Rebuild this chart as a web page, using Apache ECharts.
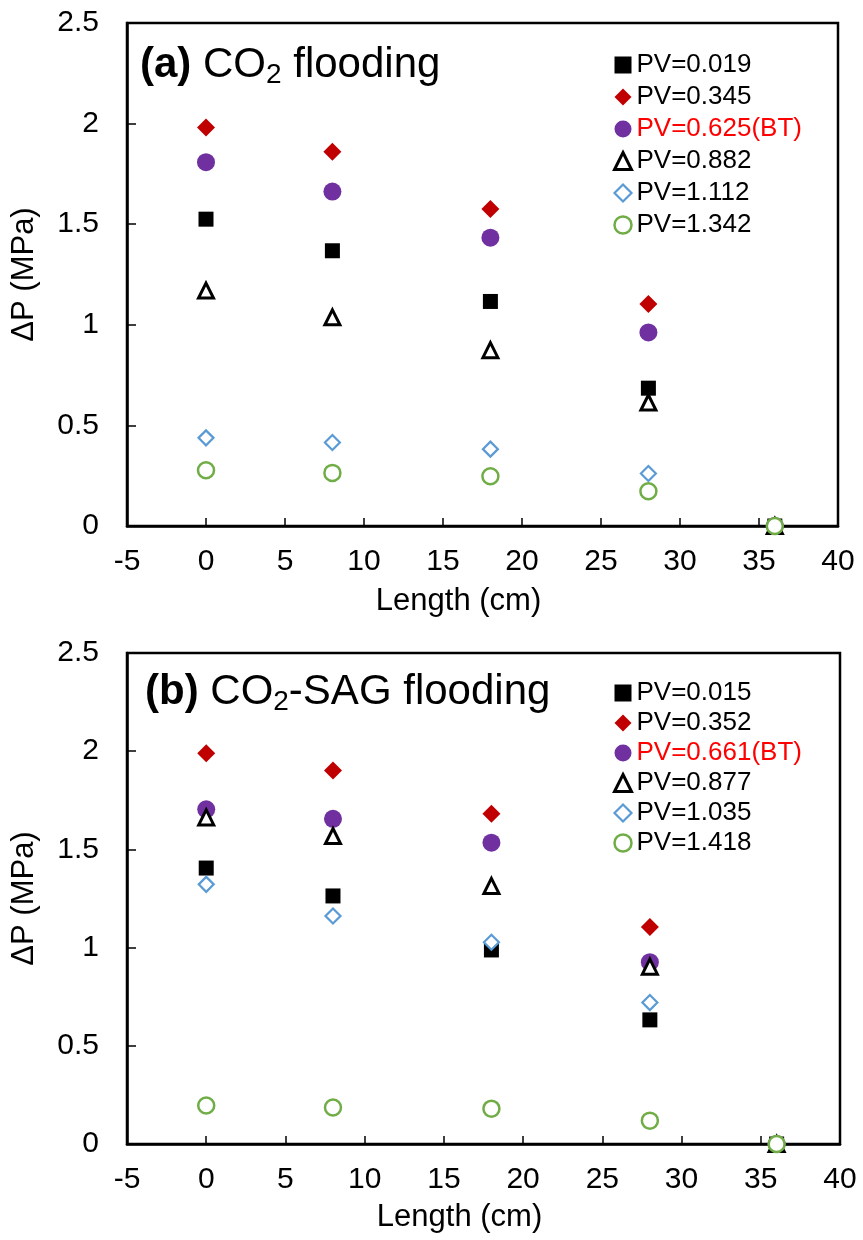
<!DOCTYPE html>
<html>
<head>
<meta charset="utf-8">
<script src="https://cdn.jsdelivr.net/npm/echarts@6/dist/echarts.min.js"></script>
<style>
html,body{margin:0;padding:0;background:#fff;}
#c{width:863px;height:1240px;}
</style>
</head>
<body>
<div id="c"></div>
<script>
// ---- data ----
const lengths = [0, 8, 18, 28, 36];
const xTicks = [-5, 0, 5, 10, 15, 20, 25, 30, 35, 40];
const yTicks = [0, 0.5, 1, 1.5, 2, 2.5];

const namesA = ['PV=0.019', 'PV=0.345', 'PV=0.625(BT)', 'PV=0.882', 'PV=1.112', 'PV=1.342'];
const a1 = [1.525, 1.368, 1.116, 0.685, 0];
const a2 = [1.980, 1.860, 1.576, 1.103, 0];
const a3 = [1.808, 1.662, 1.433, 0.962, 0];
const a4 = [1.170, 1.037, 0.874, 0.614, 0];
const a5 = [0.438, 0.415, 0.382, 0.261, 0];
const a6 = [0.277, 0.264, 0.247, 0.173, 0];

const namesB = ['PV=0.015', 'PV=0.352', 'PV=0.661(BT)', 'PV=0.877', 'PV=1.035', 'PV=1.418'];
const b1 = [1.405, 1.263, 0.988, 0.632, 0];
const b2 = [1.990, 1.902, 1.682, 1.105, 0];
const b3 = [1.704, 1.656, 1.534, 0.926, 0];
const b4 = [1.663, 1.568, 1.314, 0.903, 0];
const b5 = [1.322, 1.161, 1.027, 0.720, 0];
const b6 = [0.196, 0.186, 0.180, 0.119, 0];

// ---- styles ----
const FONT = '"Liberation Sans", Arial, sans-serif';
const styles = [
  {symbol: 'rect', symbolSize: 15, itemStyle: {color: '#000000', opacity: 1}},
  {symbol: 'diamond', symbolSize: 18, itemStyle: {color: '#C00000', opacity: 1}},
  {symbol: 'circle', symbolSize: 18, itemStyle: {color: '#7030A0', opacity: 1}},
  {symbol: 'triangle', symbolSize: 15, itemStyle: {color: '#ffffff', borderColor: '#000000', borderWidth: 3, opacity: 1}},
  {symbol: 'diamond', symbolSize: 15, itemStyle: {color: '#ffffff', borderColor: '#5B9BD5', borderWidth: 2.2, opacity: 1}},
  {symbol: 'circle', symbolSize: 16, itemStyle: {color: '#ffffff', borderColor: '#70AD47', borderWidth: 2.5, opacity: 1}}
];

function pairs(vals) { return lengths.map((x, i) => [x, vals[i]]); }

function makeSeries(names, sets, idx) {
  return names.map((n, i) => Object.assign({
    type: 'scatter', name: n, xAxisIndex: idx, yAxisIndex: idx,
    data: pairs(sets[i]), clip: false, z: 2 + i,
    emphasis: {disabled: true}
  }, JSON.parse(JSON.stringify(styles[i]))));
}

function legendData(names) {
  return names.map((n, i) => {
    const d = {name: n, itemStyle: JSON.parse(JSON.stringify(styles[i].itemStyle))};
    if (i === 2) d.textStyle = {color: '#FF0000'};
    return d;
  });
}

function xAxis(idx) {
  return {
    type: 'value', gridIndex: idx, min: xTicks[0], max: xTicks[xTicks.length - 1], interval: 5,
    name: 'Length (cm)', nameLocation: 'middle', nameGap: idx === 0 ? 60 : 58,
    nameTextStyle: {fontFamily: FONT, fontSize: 31, color: '#000', padding: [0, 48, 0, 0]},
    axisLine: {show: true, onZero: false, lineStyle: {color: '#000', width: 2.5}},
    axisTick: {show: true, inside: true, length: 8, lineStyle: {color: '#000', width: 1.5}},
    axisLabel: {fontFamily: FONT, fontSize: 30, color: '#000', margin: 21, showMinLabel: true, showMaxLabel: true},
    splitLine: {show: false}
  };
}
function yAxis(idx) {
  return {
    type: 'value', gridIndex: idx, min: yTicks[0], max: yTicks[yTicks.length - 1], interval: 0.5,
    name: 'ΔP (MPa)', nameLocation: 'middle', nameGap: 87, nameRotate: 90,
    nameTextStyle: {fontFamily: FONT, fontSize: 31, color: '#000'},
    axisLine: {show: true, onZero: false, lineStyle: {color: '#000', width: 2.5}},
    axisTick: {show: true, inside: true, length: 9, lineStyle: {color: '#000', width: 1.5}},
    axisLabel: {fontFamily: FONT, fontSize: 30, color: '#000', margin: 28, showMinLabel: true, showMaxLabel: true},
    splitLine: {show: false}
  };
}

function legend(names, top, gap) {
  return {
    data: legendData(names), orient: 'vertical', left: 613, top: top,
    itemWidth: 17, itemHeight: 17, itemGap: gap,
    textStyle: {fontFamily: FONT, fontSize: 26, color: '#000', lineHeight: 26},
    selectedMode: false, padding: 0
  };
}

const chart = echarts.init(document.getElementById('c'), null, {renderer: 'canvas'});
const rich = {
  b: {fontFamily: FONT, fontSize: 42, fontWeight: 'bold', color: '#000', lineHeight: 48},
  n: {fontFamily: FONT, fontSize: 42, fontWeight: 'normal', color: '#000', lineHeight: 48},
  s: {fontFamily: FONT, fontSize: 28, fontWeight: 'normal', color: '#000', lineHeight: 18, verticalAlign: 'bottom'}
};
chart.setOption({
  animation: false,
  backgroundColor: '#ffffff',
  title: [
    {text: '{b|(a)}{n| CO}{s|2}{n| flooding}', left: 140, top: 41, padding: 0, textStyle: {fontWeight: 'normal', rich: rich}},
    {text: '{b|(b)}{n| CO}{s|2}{n|-SAG flooding}', left: 145, top: 668, padding: 0, textStyle: {fontWeight: 'normal', rich: rich}}
  ],
  grid: [
    {left: 127, right: 25, top: 23, height: 503, show: true, borderColor: '#000', borderWidth: 2.5, backgroundColor: 'transparent'},
    {left: 127, right: 23, top: 653, height: 491, show: true, borderColor: '#000', borderWidth: 2.5, backgroundColor: 'transparent'}
  ],
  legend: [legend(namesA, 52, 6), legend(namesB, 680, 4)],
  xAxis: [xAxis(0), xAxis(1)],
  yAxis: [yAxis(0), yAxis(1)],
  series: makeSeries(namesA, [a1, a2, a3, a4, a5, a6], 0).concat(makeSeries(namesB, [b1, b2, b3, b4, b5, b6], 1))
});
</script>
</body>
</html>
